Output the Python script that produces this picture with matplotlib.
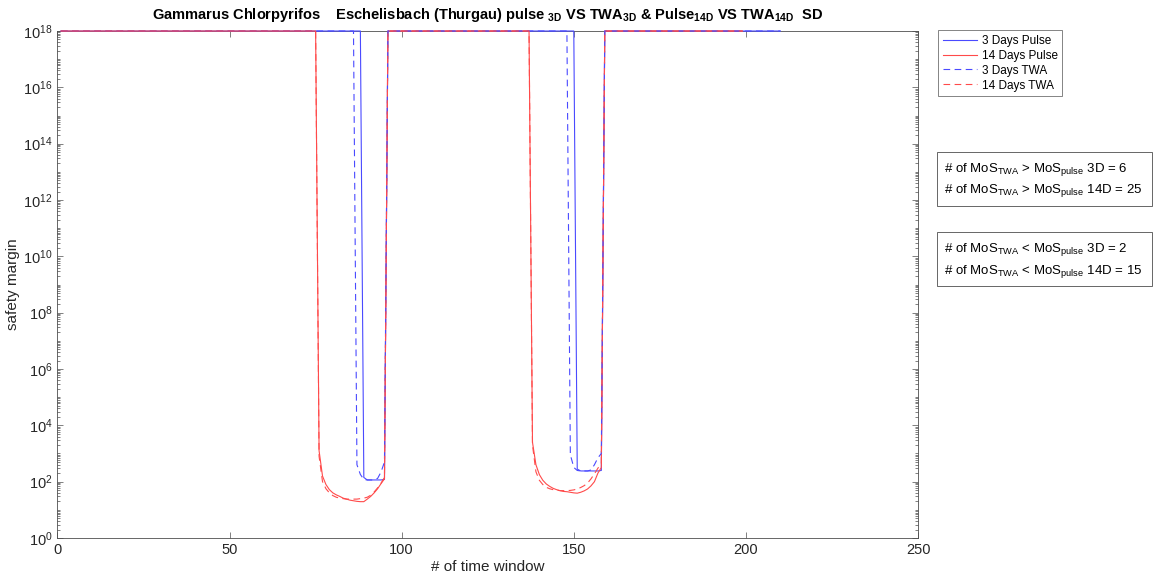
import numpy as np
import matplotlib
matplotlib.use("Agg")
import matplotlib.pyplot as plt
from matplotlib.ticker import LogLocator, FixedLocator, NullFormatter
from matplotlib.patches import Rectangle

plt.rcParams['font.family'] = ['Liberation Sans', 'DejaVu Sans']
plt.rcParams['mathtext.fontset'] = 'custom'
plt.rcParams['mathtext.rm'] = 'Liberation Sans'
plt.rcParams['mathtext.it'] = 'Liberation Sans:italic'
plt.rcParams['mathtext.bf'] = 'Liberation Sans:bold'

## Data: safety margin per time window, capped at 1e18 outside the exposure peaks
CAP = 1e18
n_windows_3d = 210
n_windows_14d = 199

# (first window, values) for each dip below the cap
pulse_3d_dips = [
    (89, [141, 115, 115, 115, 115, 115, 120]),
    (151, [280, 240, 240, 240, 240, 240, 240, 250]),
]
twa_3d_dips = [
    (87, [400, 180, 120, 115, 115, 115, 130, 220, 500]),
    (149, [900, 320, 250, 240, 240, 240, 260, 400, 700, 1000]),
]
pulse_14d_dips = [
    (76, [1250, 158, 79, 52, 40, 34, 30, 26, 24, 22, 21, 20, 19.5, 19.5,
          24, 30, 40, 56, 85, 126]),
    (138, [2500, 400, 178, 112, 83, 68, 58, 52, 48, 45, 44, 42, 40, 39,
           42, 47, 55, 71, 100, 200, 316]),
]
twa_14d_dips = [
    (76, [794, 100, 56, 40, 32, 28, 26, 25, 24, 24, 24, 24, 25, 26,
          28, 33, 43, 60, 89, 141]),
    (138, [2000, 224, 112, 79, 63, 56, 52, 50, 48, 48, 48, 49, 51, 55,
           62, 72, 89, 126, 190, 300, 450]),
]

n_twa_gt_pulse_3d = 6
n_twa_gt_pulse_14d = 25
n_twa_lt_pulse_3d = 2
n_twa_lt_pulse_14d = 15


def build_series(n, dips):
    x = np.arange(1, n + 1)
    y = np.full(n, CAP)
    for start, vals in dips:
        y[start - 1:start - 1 + len(vals)] = vals
    return x, y


x3, pulse_3d = build_series(n_windows_3d, pulse_3d_dips)
_, twa_3d = build_series(n_windows_3d, twa_3d_dips)
x14, pulse_14d = build_series(n_windows_14d, pulse_14d_dips)
_, twa_14d = build_series(n_windows_14d, twa_14d_dips)

## Plot
fig = plt.figure(figsize=(11.54, 5.83), dpi=100)
ax = fig.add_axes([0.0498, 0.0772, 0.7457, 0.8696])

blue = '#4a4aff'
red = '#ff4a4a'
lw = 0.8
dash = (0, (6, 4))
style = dict(lw=lw, clip_on=False, zorder=3)
ax.semilogy(x3, pulse_3d, color=blue, label='3 Days Pulse', **style)
ax.semilogy(x14, pulse_14d, color=red, label='14 Days Pulse', **style)
ax.semilogy(x3, twa_3d, color=blue, linestyle=dash, label='3 Days TWA', **style)
ax.semilogy(x14, twa_14d, color=red, linestyle=dash, label='14 Days TWA', **style)

ax.set_xlim(0, 250)
ax.set_ylim(1, 1e18)
ax.set_xticks([0, 50, 100, 150, 200, 250])
ax.yaxis.set_major_locator(FixedLocator([10.0 ** k for k in range(0, 19, 2)]))
ax.yaxis.set_minor_locator(LogLocator(base=10, subs=np.arange(1, 10), numticks=40))
ax.yaxis.set_minor_formatter(NullFormatter())

axis_col = '#262626'
for s in ax.spines.values():
    s.set_color('#4d4d4d')
    s.set_linewidth(0.6)
ax.tick_params(which='both', direction='in', top=True, right=True,
               colors='#4d4d4d', labelcolor=axis_col, labelsize=10.5, width=0.5)
ax.tick_params(which='major', length=4)
ax.tick_params(which='minor', length=2)

ax.set_xlabel('# of time window', fontsize=11, color=axis_col, labelpad=2)
ax.set_ylabel('safety margin', fontsize=11, color=axis_col, labelpad=2)
ax.set_title(r'Gammarus Chlorpyrifos    Eschelisbach (Thurgau) pulse $_{\mathbf{3D}}$'
             r' VS TWA$_{\mathbf{3D}}$ & Pulse$_{\mathbf{14D}}$ VS TWA$_{\mathbf{14D}}$  SD',
             fontsize=10.5, fontweight='bold', color='black', pad=9)

leg = fig.legend(loc='upper left', bbox_to_anchor=(938 / 1154, 1 - 30 / 583),
                 borderaxespad=0, fontsize=8.5, frameon=True, fancybox=False,
                 handlelength=2.9, handletextpad=0.4, borderpad=0.4,
                 labelspacing=0.25)
leg.get_frame().set_edgecolor('#4d4d4d')
leg.get_frame().set_linewidth(0.6)

# count boxes to the right of the axes
for top_px, sign, n3, n14 in [(152, '>', n_twa_gt_pulse_3d, n_twa_gt_pulse_14d),
                              (232, '<', n_twa_lt_pulse_3d, n_twa_lt_pulse_14d)]:
    fig.add_artist(Rectangle((937 / 1154, 1 - (top_px + 54) / 583),
                             (1152 - 937) / 1154, 54 / 583,
                             transform=fig.transFigure, fill=False,
                             edgecolor='#4d4d4d', lw=0.6))
    for dy, lab, n in [(17, '3D', n3), (39, '14D', n14)]:
        fig.text(944 / 1154, 1 - (top_px + dy) / 583,
                 r'# of MoS$_{\mathrm{TWA}}$ ' + sign + r' MoS$_{\mathrm{pulse}}$ '
                 + f'{lab} = {n}', fontsize=9.5, color='black', va='center')

fig.savefig('out.png', dpi=100)
